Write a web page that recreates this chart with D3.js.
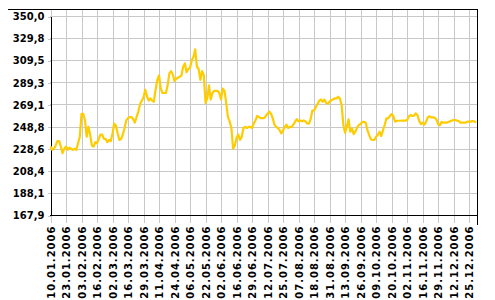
<!DOCTYPE html>
<html lang="en">
<head>
    <meta charset="UTF-8">
    <title>Price 2006</title>
    <script src="https://d3js.org/d3.v7.min.js"></script>
    <style>
        body { margin: 0; background: #fff; }
        text {
            font: bold 10px "DejaVu Sans", Verdana, sans-serif;
            fill: #000;
        }
        .grid line { stroke: #c8c8c8; stroke-width: 1px; shape-rendering: crispEdges; }
        .frame { stroke: #000; stroke-width: 1px; shape-rendering: crispEdges; }
        .tick line { stroke: #c8c8c8; shape-rendering: crispEdges; }
        .domain { stroke: #000; shape-rendering: crispEdges; }
        .xaxis text { letter-spacing: 1px; }
    </style>
</head>
<body>
    <script>
        // Daily closing values, 2006
        const prices = [
            231, 228, 229, 232, 236, 236, 231, 225, 229, 231, 228, 230, 229, 228, 229, 228, 234, 240, 261, 261,
            255, 240, 249, 242, 232, 231, 235, 234, 238, 242, 242, 238, 238, 235, 237, 236, 243, 252, 250, 243,
            237, 238,
            242, 248, 255, 257, 258, 258, 256, 253, 258, 263, 270, 273, 276, 283, 277, 273, 275, 273, 272, 283,
            292, 296, 284, 280, 280, 280, 287, 298, 300, 297, 291, 293, 294, 295, 296, 304, 307, 299, 302, 303,
            310,
            313, 320, 304, 302, 292, 300, 296, 271, 275, 287, 274, 280, 282, 282, 282, 280, 274, 284, 282, 271,
            258, 254, 248, 229, 232, 239, 242, 237, 240, 248, 249, 248, 249, 249, 248, 252, 255, 259, 258, 257,
            257, 257, 259, 261, 263, 261, 257, 251, 249, 248, 246, 243, 246, 249, 251, 248, 249, 249, 251, 254,
            256, 254, 255, 254, 255, 254, 252, 252, 256, 264, 264, 267, 270, 273, 274, 272, 274, 271, 270, 272,
            273.5, 274, 275, 275, 276.6, 275, 269, 250.7, 243.7, 249, 255.9, 244.6, 247.6, 242.4, 244.6, 248.5,
            250.7, 251.6, 253.4, 253.7, 252.8, 246, 241.5, 237.6, 237, 237, 240, 241.5, 244.6, 240.6, 246, 250.7,
            256.8, 256.8, 258.9, 260.7, 258.9, 253.7, 254.6, 254.6, 254.6,
            254.7, 254.7, 254.7, 255.3, 258.4, 259.9, 259, 259.3, 261.4, 259.9, 254.7, 251.6, 252.9, 251, 253.5,
            257.7, 258.7, 257.7, 257.7, 257.4, 255.9, 251.6, 250.4, 253.5, 252.9, 252.9, 252.9, 253.5, 254.1,
            254.7, 255.3, 255.3, 254.7, 254.4, 252.9, 252.9, 252.9, 252.9, 253.8, 253.8, 253.8, 254.4, 254.1, 252.9
        ];

        // Date labels, one every 9 trading days
        const dateLabels = [
            "10.01.2006", "23.01.2006", "03.02.2006", "16.02.2006", "02.03.2006", "16.03.2006", "29.03.2006",
            "11.04.2006", "24.04.2006", "06.05.2006", "22.05.2006", "02.06.2006", "16.06.2006", "29.06.2006",
            "12.07.2006", "25.07.2006", "07.08.2006", "18.08.2006", "31.08.2006", "13.09.2006", "26.09.2006",
            "09.10.2006", "20.10.2006", "02.11.2006", "16.11.2006", "29.11.2006", "12.12.2006", "25.12.2006"
        ];
        const labelStep = 9;

        const yTicks = [350.0, 329.8, 309.5, 289.3, 269.1, 248.8, 228.6, 208.4, 188.1, 167.9];

        const width = 495;
        const height = 300;
        const plotLeft = 50, plotRight = 477, plotTop = 9, plotBottom = 215.5;

        const svg = d3.select("body")
            .append("svg")
            .attr("width", width)
            .attr("height", height);

        const x = d3.scaleLinear()
            .domain([0, prices.length - 1])
            .range([plotLeft + 0.5, 476]);

        const y = d3.scaleLinear()
            .domain([167.9, 350])
            .range([plotBottom, 16.5]);

        const tickIdx = dateLabels.map((d, i) => i * labelStep);

        // Grid lines
        const grid = svg.append("g").attr("class", "grid");
        grid.selectAll("line.v")
            .data(tickIdx)
            .enter()
            .append("line")
            .attr("class", "v")
            .attr("x1", d => Math.round(x(d)) + 0.5)
            .attr("x2", d => Math.round(x(d)) + 0.5)
            .attr("y1", plotTop)
            .attr("y2", plotBottom);
        grid.selectAll("line.h")
            .data(yTicks)
            .enter()
            .append("line")
            .attr("class", "h")
            .attr("x1", plotLeft)
            .attr("x2", plotRight)
            .attr("y1", d => y(d))
            .attr("y2", d => y(d));

        // Y axis
        svg.append("g")
            .attr("transform", `translate(${plotLeft + 0.5},0)`)
            .call(d3.axisLeft(y)
                .tickValues(yTicks)
                .tickFormat(d => d.toFixed(1).replace(".", ","))
                .tickSizeInner(3)
                .tickSizeOuter(0)
                .tickPadding(3))
            .call(g => g.attr("font-family", null).attr("font-size", null));

        // X axis
        const xAxis = svg.append("g")
            .attr("class", "xaxis")
            .attr("transform", `translate(0,${plotBottom})`)
            .call(d3.axisBottom(x)
                .tickValues(tickIdx)
                .tickFormat((d, i) => dateLabels[i])
                .tickSizeInner(7)
                .tickSizeOuter(0))
            .call(g => g.attr("font-family", null).attr("font-size", null));
        xAxis.select(".domain").remove();
        xAxis.selectAll(".tick")
            .attr("transform", d => `translate(${Math.round(x(d)) + 0.5},0)`);
        xAxis.selectAll("text")
            .attr("transform", "rotate(-90)")
            .attr("x", -10)
            .attr("y", 0)
            .attr("dy", "0.36em")
            .style("text-anchor", "end");

        // Frame lines
        svg.append("line").attr("class", "frame")
            .attr("x1", plotLeft).attr("x2", plotRight + 0.5)
            .attr("y1", plotBottom).attr("y2", plotBottom);
        svg.append("line").attr("class", "frame")
            .attr("x1", 8).attr("x2", plotRight + 0.5)
            .attr("y1", plotTop + 0.5).attr("y2", plotTop + 0.5);
        svg.append("line").attr("class", "frame")
            .attr("x1", plotRight + 0.5).attr("x2", plotRight + 0.5)
            .attr("y1", plotTop).attr("y2", 225);

        // Price line
        const line = d3.line()
            .x((d, i) => x(i))
            .y(d => y(d));

        svg.append("path")
            .datum(prices)
            .attr("fill", "none")
            .attr("stroke", "#ffcc00")
            .attr("stroke-width", 2.2)
            .attr("stroke-linejoin", "round")
            .attr("d", line);
    </script>
</body>
</html>
